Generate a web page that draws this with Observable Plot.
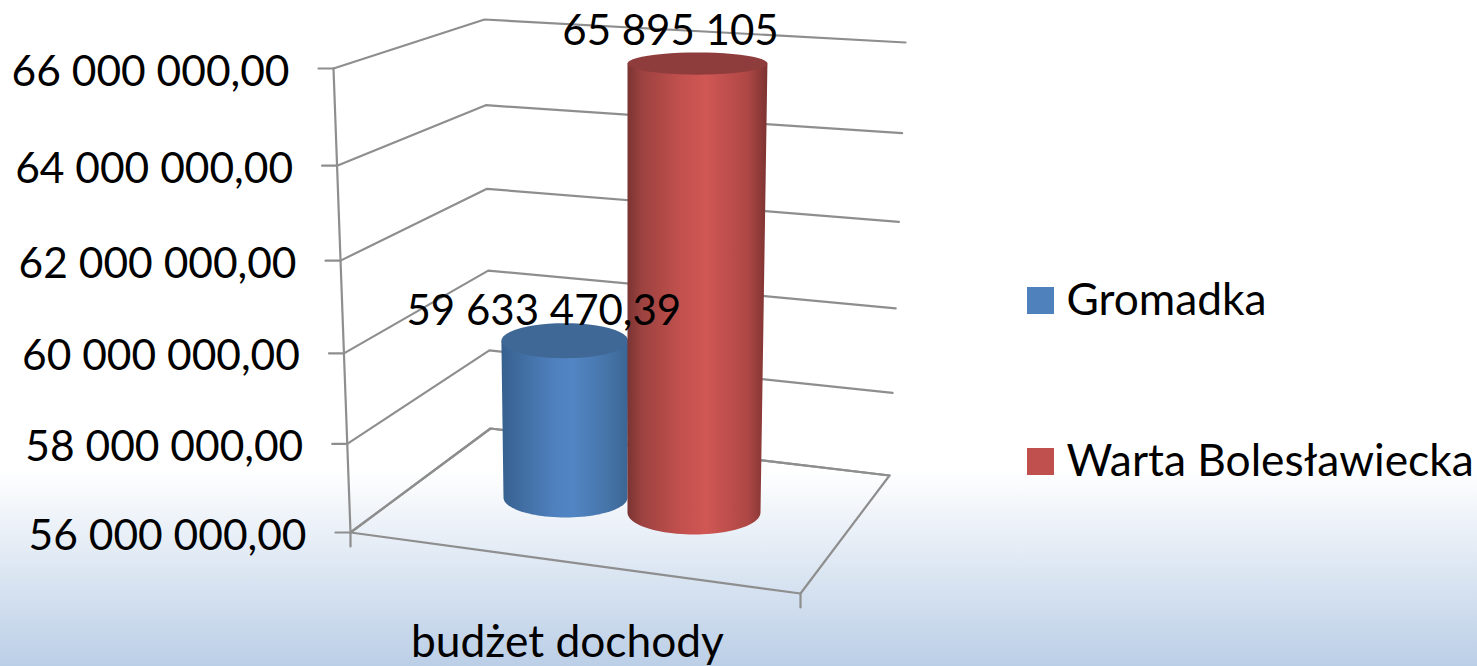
<!DOCTYPE html>
<html lang="pl">
<head>
<meta charset="utf-8">
<script src="https://cdn.jsdelivr.net/npm/d3@7"></script>
<script src="https://cdn.jsdelivr.net/npm/@observablehq/plot@0.6"></script>
<style>
html,body{margin:0;padding:0;overflow:hidden;width:1477px;height:666px;
  background:linear-gradient(to bottom,#fff 0,#fff 470px,#bbcfe7 666px);}
svg{display:block;background:transparent !important;}
</style>
</head>
<body>
<div id="chart"></div>
<script>
// ---- data ----
const category = "budżet dochody";
const seriesNames = ["Gromadka", "Warta Bolesławiecka"];
const seriesValues = [59633470.39, 65895105];
const seriesColors = ["#4f81bd", "#c0504d"];
const axisTicks = [56000000, 58000000, 60000000, 62000000, 64000000, 66000000];

// ---- 3D frame of the chart: edges of the walls as [at axis minimum, at axis maximum] ----
const frame = {
  front: {x: [350, 333], y: [532, 68]},
  back:  {x: [490, 484], y: [428, 19]},
  right: {x: [889, 905], y: [475, 42]}
};
const floorFront = {x: 800, y: 593};
const tickLength = 15;
const columns = [
  {x: [565, 563], y: [497, 49], hw: [62, 66], ry: 20, shrink: 0.35, grad: "gBlue", cap: "#406896", labelDx: -21, labelDy: -29},
  {x: [693.5, 697], y: [512, 58], hw: [66.5, 70], ry: 22, shrink: 0.5, grad: "gRed", cap: "#8f3d3c", labelDx: -27, labelDy: -32}
];
const [vMin, vMax] = d3.extent(axisTicks);
const depth = v => { const t = (v - vMin) / (vMax - vMin); return t / (t + (1 - t) * 1.06); };
const mix = ([a, b], s) => a + (b - a) * s;

// number formats with Polish separators
const pl = d3.formatLocale({decimal: ",", thousands: " ", grouping: [3], currency: ["", " zł"]});
const fmtAxis = pl.format(",.2f");
const fmtLabel = v => Number.isInteger(v) ? pl.format(",d")(v) : pl.format(",.2f")(v);

// grid polylines
const gridPts = axisTicks.flatMap(v => ["front", "back", "right"].map(k => ({
  v, x: mix(frame[k].x, depth(v)), y: mix(frame[k].y, depth(v))
})));
const at = (k, v) => ({x: mix(frame[k].x, depth(v)), y: mix(frame[k].y, depth(v))});
const floorPts = [at("front", vMin), floorFront, at("right", vMin)];
const axisPts = [at("front", vMax), at("front", vMin), {x: at("front", vMin).x, y: at("front", vMin).y + 14}];
const tickPts = axisTicks.flatMap(v => {
  const p = at("front", v);
  return [{v, x: p.x - tickLength, y: p.y}, {v, x: p.x, y: p.y}];
});
const floorTick = [floorFront, {x: floorFront.x, y: floorFront.y + 14}];

// cylinder outlines from the values
const arc = (cx, cy, hw, ry, from, to) =>
  d3.range(0, 49).map(i => {
    const a = (from + (to - from) * i / 48) * Math.PI / 180;
    return {x: cx + hw * Math.cos(a), y: cy + ry * Math.sin(a)};
  });
const cyl = seriesValues.map((v, i) => {
  const c = columns[i], s = depth(v);
  const top = {x: mix(c.x, s), y: mix(c.y, s), hw: mix(c.hw, s), ry: c.ry * (1 - c.shrink * s)};
  return {
    value: v, name: seriesNames[i], top, grad: c.grad, cap: c.cap,
    body: [...arc(c.x[0], c.y[0], c.hw[0], c.ry, 180, 0), {x: top.x + top.hw, y: top.y}, {x: top.x - top.hw, y: top.y}],
    capPts: arc(top.x, top.y, top.hw, top.ry, 0, 360),
    lx: top.x + c.labelDx, ly: top.y + c.labelDy
  };
});

// legend rows
const legendX = 1027, legendBox = 27, legendRows = [300.5, 461.5];
const legendData = seriesNames.map((name, i) => ({name, color: seriesColors[i], y: legendRows[i]}));

const stops = {
  gBlue: [[0, "#35608f"], [.14, "#3f6c9f"], [.42, "#4f81bf"], [.56, "#5285c4"], [.84, "#4674a8"], [1, "#3a6593"]],
  gRed: [[0, "#7a3432"], [.1, "#9c4240"], [.38, "#c2504d"], [.56, "#d05754"], [.86, "#ae4745"], [1, "#7b3331"]]
};
const defsMark = () => {
  const d = d3.create("svg:defs");
  for (const id in stops) {
    const g = d.append("linearGradient").attr("id", id).attr("x1", 0).attr("x2", 1).attr("y1", 0).attr("y2", 0);
    stops[id].forEach(([o, c]) => g.append("stop").attr("offset", o).attr("stop-color", c));
  }
  return d.node();
};

const gridStyle = {x: "x", y: "y", stroke: "#8e8e8e", strokeWidth: 2.2, curve: "linear"};
const fs = 42.5, fsLegend = 44.3;
const plot = Plot.plot({
  width: 1477, height: 666, margin: 0,
  style: {fontFamily: "Lato, Carlito, sans-serif", background: "transparent", overflow: "visible"},
  x: {domain: [0, 1477], range: [0, 1477], axis: null},
  y: {domain: [0, 666], range: [0, 666], axis: null},
  marks: [
    defsMark,
    Plot.line(gridPts, {...gridStyle, z: "v"}),
    Plot.line([...floorPts, at("back", vMin), at("front", vMin)], gridStyle),
    Plot.line(axisPts, gridStyle),
    Plot.line(tickPts, {...gridStyle, z: "v"}),
    Plot.line(floorTick, gridStyle),
    ...cyl.flatMap(c => [
      Plot.line(c.body, {x: "x", y: "y", fill: `url(#${c.grad})`, stroke: "none"}),
      Plot.line(c.capPts, {x: "x", y: "y", fill: c.cap, stroke: "none"})
    ]),
    Plot.text(axisTicks, {
      x: v => at("front", v).x - 44, y: v => at("front", v).y + 3.5,
      text: fmtAxis, textAnchor: "end", fontSize: fs, fill: "#000"
    }),
    Plot.text(cyl, {x: "lx", y: "ly", text: d => fmtLabel(d.value), fontSize: 42, fill: "#000"}),
    Plot.text([category], {x: () => 567, y: () => 642, text: d => d, fontSize: fsLegend, fill: "#000"}),
    Plot.rect(legendData, {
      x1: () => legendX, x2: () => legendX + legendBox,
      y1: d => d.y - legendBox / 2, y2: d => d.y + legendBox / 2, fill: d => d.color
    }),
    Plot.text(legendData, {x: () => 1066, y: "y", text: "name", textAnchor: "start", fontSize: fsLegend, fill: "#000"})
  ]
});
document.getElementById("chart").append(plot);
</script>
</body>
</html>
